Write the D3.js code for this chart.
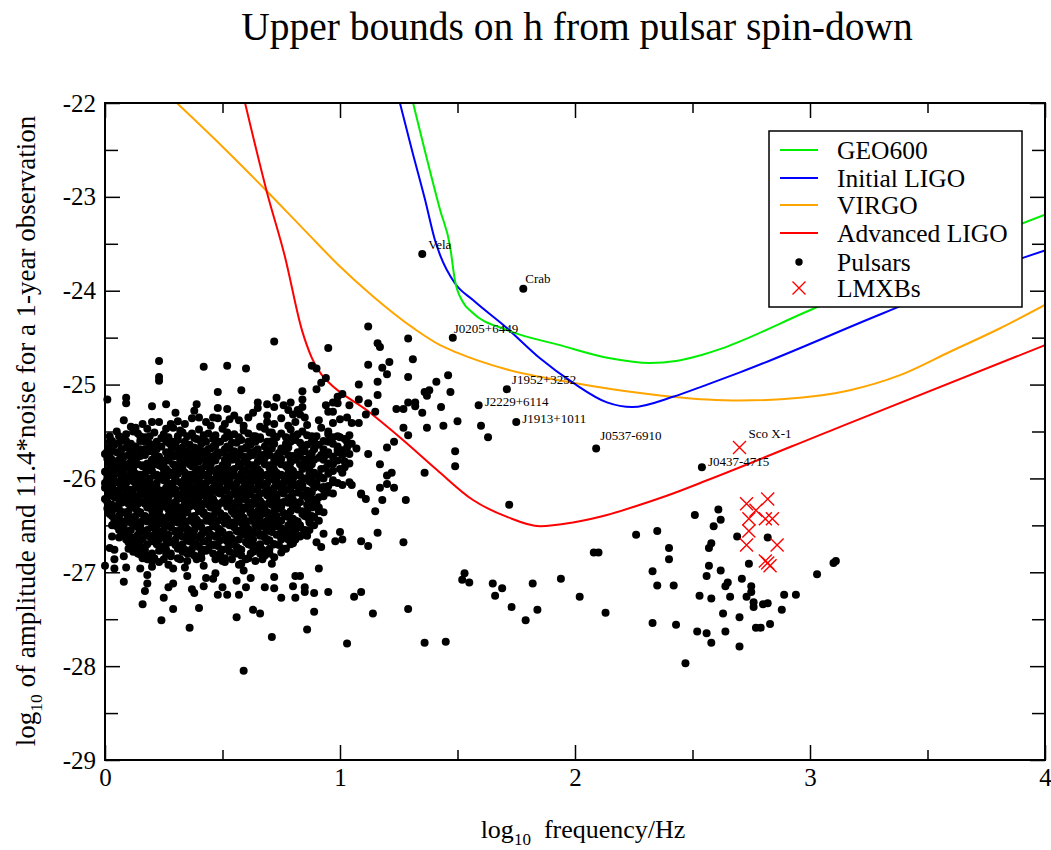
<!DOCTYPE html>
<html><head><meta charset="utf-8">
<script src="https://cdn.jsdelivr.net/npm/d3@7"></script>
<style>body{margin:0;background:#fff}svg{display:block}text{font-family:"Liberation Serif","Times New Roman",serif;fill:#000}</style>
</head><body><svg id="c" width="1051" height="850"></svg>
<script>
// ---------------- DATA ----------------
const xMajorTicks = [0, 1, 2, 3, 4];
const xMinorTicks = [0.5, 1.5, 2.5, 3.5];
const yMajorTicks = [-29, -28, -27, -26, -25, -24, -23, -22];
const yMinorTicks = [-28.5, -27.5, -26.5, -25.5, -24.5, -23.5, -22.5];

const geo600 = [[1.311,-22.00],[1.426,-23.14],[1.468,-23.52],[1.489,-23.89],[1.523,-24.12],[1.562,-24.23],[1.711,-24.42],[1.936,-24.58],[2.149,-24.72],[2.319,-24.77],[2.43,-24.75],[2.532,-24.69],[2.62,-24.62],[2.702,-24.54],[2.970,-24.24],[3.383,-23.80],[4.0,-23.19]];
const initialLIGO = [[1.255,-22.00],[1.306,-22.50],[1.362,-23.03],[1.404,-23.46],[1.426,-23.62],[1.489,-23.92],[1.566,-24.10],[1.711,-24.40],[1.851,-24.72],[1.991,-24.98],[2.136,-25.19],[2.243,-25.24],[2.417,-25.13],[2.562,-25.00],[2.702,-24.87],[3.311,-24.24],[3.906,-23.65],[4.0,-23.57]];
const virgo = [[0.306,-22.00],[0.498,-22.46],[0.689,-22.94],[0.851,-23.36],[0.991,-23.72],[1.136,-24.05],[1.319,-24.41],[1.426,-24.58],[1.498,-24.66],[1.711,-24.84],[1.991,-24.98],[2.277,-25.09],[2.562,-25.16],[2.702,-25.17],[2.957,-25.14],[3.170,-25.06],[3.383,-24.90],[3.596,-24.65],[3.809,-24.40],[4.0,-24.15]];
const advancedLIGO = [[0.596,-22.00],[0.689,-22.95],[0.766,-23.64],[0.838,-24.42],[0.881,-24.72],[0.923,-24.90],[0.949,-24.97],[1.128,-25.30],[1.268,-25.59],[1.413,-25.91],[1.566,-26.23],[1.711,-26.41],[1.851,-26.51],[1.991,-26.47],[2.136,-26.39],[2.277,-26.28],[2.417,-26.16],[2.562,-26.02],[3.128,-25.45],[4.0,-24.58]];

const namedPulsars = [
  {name:"Vela", x:1.35, y:-23.61},
  {name:"Crab", x:1.78, y:-23.98},
  {name:"J0205+6449", x:1.48, y:-24.50},
  {name:"J1952+3252", x:1.71, y:-25.05},
  {name:"J2229+6114", x:1.59, y:-25.22},
  {name:"J1913+1011", x:1.75, y:-25.40},
  {name:"J0537-6910", x:2.09, y:-25.68},
  {name:"J0437-4715", x:2.54, y:-25.88}
];

const pulsarsSparse = [
[0.72,-24.54],[0.23,-24.75],[0.23,-24.92],[0.23,-24.96],[0.42,-24.81],[0.52,-24.80],[0.60,-24.83],[0.48,-25.08],[0.58,-25.06],[0.01,-25.16],[0.09,-25.14],[0.09,-25.20],[0.20,-25.23],[0.26,-25.21],[0.39,-25.21],[0.38,-25.28],[0.48,-25.25],[0.52,-25.26],[0.65,-25.19],[0.65,-25.25],[0.69,-25.21],[0.73,-25.14],[0.63,-25.30],[0.08,-25.38],[0.11,-25.45],[0.16,-25.42],[0.20,-25.40],[0.23,-25.40],[0.26,-25.47],[0.31,-25.39],[0.32,-25.49],[0.37,-25.36],[0.40,-25.35],[0.46,-25.35],[0.48,-25.36],[0.55,-25.33],[0.45,-25.44],[0.47,-25.54],[0.37,-25.52],[0.42,-25.54],[0.59,-25.44],[0.66,-25.45],[0.72,-25.42],[0.71,-25.51],[0.03,-25.60],[0.06,-25.62],[0.01,-25.71],[0.11,-25.70],[0.14,-25.52],[0.17,-25.56],[0.22,-25.61],[0.28,-25.64],[0.16,-25.73],[0.20,-25.68],[0.08,-25.84],[0.12,-25.88],[0.05,-25.91],[0.01,-26.02],[0.04,-25.96],[0.03,-26.09],[0.06,-26.12],[0.15,-25.96],[0.19,-25.88],[0.23,-25.80],[0.28,-25.77],[0.32,-25.73],[0.33,-25.84],[0.29,-25.94],
[0.30,-25.30],[0.34,-25.42],[0.43,-25.40],[0.51,-25.42],[0.57,-25.38],[0.61,-25.35],[0.69,-25.33],[0.75,-25.36],[0.78,-25.44],[0.69,-25.40],[0.53,-25.37],[0.28,-25.42],[0.13,-25.46],[0.05,-25.50],[0.02,-25.55],
[1.12,-24.38],[0.95,-24.61],[1.16,-24.56],[1.17,-24.60],[1.29,-24.51],[1.31,-24.73],[1.21,-24.76],[1.12,-24.79],[1.18,-24.82],[1.20,-24.89],[1.29,-24.92],[1.46,-24.90],[1.41,-24.97],[1.16,-24.97],[0.88,-24.80],[0.90,-24.83],[0.94,-24.93],[0.92,-24.98],[0.90,-25.05],[0.84,-25.07],[1.08,-25.00],[1.16,-25.11],[1.36,-25.08],[1.38,-25.06],[1.37,-25.12],[1.47,-25.08],[1.29,-25.19],[1.32,-25.19],[1.32,-25.23],[1.24,-25.26],[1.27,-25.26],[1.43,-25.24],[1.35,-25.30],[1.44,-25.44],[1.50,-25.39],[1.37,-25.46],[1.27,-25.46],[1.29,-25.54],[1.15,-25.29],[1.11,-25.32],[1.08,-25.16],[1.12,-25.20],[1.01,-25.10],[0.99,-25.13],[0.99,-25.20],[1.04,-25.22],[0.97,-25.19],[0.94,-25.22],[0.95,-25.29],[0.91,-25.38],[0.97,-25.29],[1.00,-25.37],[1.03,-25.35],[1.05,-25.41],[1.08,-25.41],[0.97,-25.41],[0.95,-25.53],[0.97,-25.56],[1.00,-25.56],[1.04,-25.54],[1.03,-25.67],[1.07,-25.68],[1.12,-25.74],[1.20,-25.67],[1.23,-25.61],[1.17,-25.85],[1.20,-25.97],[1.22,-25.94],[1.20,-26.06],[1.23,-26.10],[1.36,-25.94],[1.49,-25.71],[1.49,-25.87],[1.04,-25.84],[0.99,-25.72],[1.02,-25.88],[1.01,-25.94],[1.04,-26.04],[1.05,-26.07],[1.09,-26.16],[1.01,-26.07],[0.97,-26.04],[0.97,-26.16],[0.93,-26.09],[0.89,-26.10],[0.84,-26.07],[0.91,-25.98],[0.96,-25.84],[0.94,-25.73],[0.89,-25.68],[0.83,-25.32],[0.84,-25.16],[0.84,-25.24],[0.82,-25.27],[0.79,-25.19],[0.76,-25.22],[0.72,-25.24],[0.78,-25.27],[0.80,-25.32],[0.81,-25.40],[0.85,-25.35],[0.86,-25.43],[0.86,-25.54],[0.83,-25.62],[0.89,-25.61],[0.88,-25.73],
[1.60,-25.44],[1.63,-25.56],
[1.27,-26.68],[1.28,-26.23],[1.17,-26.10],[1.15,-26.35],[1.16,-26.58],[1.09,-26.67],[1.12,-26.72],[1.18,-26.23],[1.11,-26.22],[1.09,-26.17],[1.00,-26.57],[0.98,-26.67],[1.01,-26.65],[0.93,-26.59],[0.90,-26.68],[0.92,-26.73],[0.91,-26.96],[0.95,-27.21],[0.89,-27.22],[0.85,-27.21],[0.85,-27.16],[0.80,-27.15],[0.81,-27.27],[0.75,-27.27],[0.72,-27.17],[0.72,-27.05],[0.81,-27.04],[0.83,-27.04],[1.09,-27.21],[1.06,-27.26],[0.89,-27.42],[0.86,-27.61],[1.14,-27.44],[1.29,-27.39],[0.71,-27.69],[1.03,-27.76],[1.36,-27.75],[1.45,-27.74],[1.53,-27.01],[1.52,-27.08],[1.55,-27.11],
[1.72,-26.28],[2.26,-26.60],[2.35,-26.56],[2.40,-26.74],[2.40,-26.86],[2.33,-26.99],[2.08,-26.79],[2.10,-26.79],[2.51,-26.39],[2.61,-26.33],[2.62,-26.44],[2.59,-26.51],[2.69,-26.62],[2.82,-26.63],[2.58,-26.69],[2.57,-26.74],[2.74,-26.91],[2.57,-26.93],[2.62,-26.98],[2.56,-27.04],[2.71,-27.07],[2.65,-27.11],[2.64,-27.15],[2.75,-27.15],[2.75,-27.21],[2.73,-27.26],[2.66,-27.26],[2.58,-27.28],[2.53,-27.25],[2.76,-27.32],[2.76,-27.37],[2.80,-27.34],[2.82,-27.33],[2.89,-27.24],[2.94,-27.24],[2.88,-27.40],[2.63,-27.44],[2.70,-27.48],[2.83,-27.55],[2.77,-27.59],[2.79,-27.59],[2.52,-27.63],[2.56,-27.65],[2.64,-27.63],[2.58,-27.75],[2.70,-27.79],[2.47,-27.97],[2.33,-27.54],[2.43,-27.56],[2.35,-27.14],[2.42,-27.14],[3.03,-27.02],[3.10,-26.90],[3.11,-26.88],[1.65,-27.12],[1.69,-27.17],[1.66,-27.25],[1.73,-27.37],[1.82,-27.12],[1.84,-27.40],[1.79,-27.51],[1.94,-27.07],[2.02,-27.26],[2.13,-27.43],
[0.59,-28.05],[0.24,-27.51],[0.36,-27.59],[0.56,-27.48],[0.63,-27.40],[0.66,-27.44],[0.16,-27.34],[0.29,-27.39],[0.25,-27.27],[0.08,-27.10],[0.00,-26.93],[0.04,-26.96],[0.09,-26.95],[0.15,-26.96],[0.20,-26.94],[0.18,-27.03],[0.18,-27.12],[0.17,-27.20],[0.27,-27.16],[0.29,-27.12],[0.35,-27.04],[0.37,-27.18],[0.38,-27.22],[0.40,-27.38],[0.43,-27.06],[0.46,-27.07],[0.48,-27.24],[0.50,-27.16],[0.52,-27.24],[0.56,-27.09],[0.57,-27.24],[0.60,-27.16],[0.62,-27.06],[0.68,-27.16],[0.59,-26.98],[0.58,-26.91],[0.51,-26.89],[0.47,-27.01],[0.42,-27.15],[0.34,-26.95],[0.29,-26.96],[0.23,-26.89],[0.16,-26.85],[0.13,-26.74],[0.04,-26.86],[0.02,-26.74],[0.04,-26.76],[0.06,-26.63],[0.03,-26.62],[0.08,-26.83]
];

const pulsarsCluster = [
[0.12,-25.50],[0.18,-25.47],[0.25,-25.53],[0.29,-25.46],[0.35,-25.55],[0.40,-25.48],[0.44,-25.52],[0.50,-25.47],[0.55,-25.53],[0.59,-25.49],[0.63,-25.55],[0.68,-25.47],[0.75,-25.52],[0.79,-25.48],[0.84,-25.50],[0.92,-25.46],
[0.07,-25.58],[0.11,-25.63],[0.15,-25.60],[0.24,-25.57],[0.27,-25.62],[0.31,-25.59],[0.36,-25.64],[0.39,-25.58],[0.43,-25.61],[0.47,-25.65],[0.51,-25.57],[0.54,-25.62],[0.58,-25.59],[0.62,-25.64],[0.66,-25.58],[0.70,-25.61],[0.73,-25.56],[0.77,-25.63],[0.81,-25.59],[0.86,-25.64],[0.93,-25.60],[0.97,-25.63],
[0.02,-25.66],[0.05,-25.72],[0.09,-25.67],[0.13,-25.74],[0.17,-25.69],[0.21,-25.73],[0.24,-25.66],[0.28,-25.71],[0.33,-25.67],[0.36,-25.74],[0.40,-25.69],[0.43,-25.73],[0.46,-25.66],[0.50,-25.72],[0.53,-25.68],[0.57,-25.74],[0.60,-25.67],[0.64,-25.71],[0.67,-25.75],[0.71,-25.68],[0.74,-25.73],[0.78,-25.67],[0.82,-25.72],[0.89,-25.69],[0.95,-25.72],[1.01,-25.70],
[0.01,-25.79],[0.04,-25.84],[0.08,-25.77],[0.11,-25.82],[0.14,-25.77],[0.18,-25.84],[0.22,-25.78],[0.25,-25.83],[0.29,-25.76],[0.32,-25.81],[0.35,-25.77],[0.38,-25.84],[0.41,-25.79],[0.45,-25.82],[0.48,-25.76],[0.52,-25.83],[0.55,-25.78],[0.58,-25.84],[0.61,-25.77],[0.65,-25.82],[0.68,-25.78],[0.72,-25.84],[0.75,-25.79],[0.79,-25.83],[0.83,-25.77],[0.87,-25.82],[0.91,-25.78],[0.99,-25.81],
[0.00,-25.93],[0.03,-25.88],[0.06,-25.94],[0.10,-25.89],[0.13,-25.95],[0.16,-25.87],[0.20,-25.92],[0.23,-25.86],[0.27,-25.93],[0.30,-25.88],[0.34,-25.94],[0.37,-25.87],[0.40,-25.92],[0.43,-25.86],[0.47,-25.93],[0.50,-25.88],[0.53,-25.94],[0.57,-25.87],[0.60,-25.92],[0.63,-25.86],[0.66,-25.93],[0.70,-25.89],[0.73,-25.94],[0.77,-25.87],[0.80,-25.92],[0.85,-25.88],[0.89,-25.94],[0.94,-25.89],
[0.02,-25.98],[0.05,-26.04],[0.08,-25.97],[0.12,-26.03],[0.15,-25.98],[0.18,-26.05],[0.21,-25.97],[0.25,-26.02],[0.28,-25.96],[0.32,-26.04],[0.35,-25.99],[0.39,-26.03],[0.42,-25.96],[0.45,-26.02],[0.49,-25.98],[0.52,-26.05],[0.55,-25.97],[0.59,-26.03],[0.62,-25.98],[0.65,-26.04],[0.69,-25.96],[0.72,-26.02],[0.76,-25.98],[0.79,-26.05],[0.83,-25.97],[0.87,-26.03],[0.92,-25.99],[0.97,-26.02],
[0.01,-26.08],[0.04,-26.13],[0.07,-26.07],[0.11,-26.12],[0.14,-26.06],[0.17,-26.14],[0.20,-26.09],[0.24,-26.13],[0.27,-26.07],[0.30,-26.12],[0.34,-26.06],[0.37,-26.14],[0.40,-26.08],[0.44,-26.12],[0.47,-26.07],[0.51,-26.13],[0.54,-26.08],[0.57,-26.14],[0.61,-26.07],[0.64,-26.12],[0.67,-26.06],[0.71,-26.13],[0.74,-26.08],[0.78,-26.12],[0.81,-26.07],[0.86,-26.13],[0.90,-26.08],
[0.02,-26.18],[0.06,-26.23],[0.09,-26.17],[0.12,-26.22],[0.16,-26.17],[0.19,-26.24],[0.22,-26.18],[0.26,-26.23],[0.29,-26.16],[0.32,-26.21],[0.36,-26.17],[0.39,-26.24],[0.42,-26.18],[0.46,-26.22],[0.49,-26.16],[0.52,-26.23],[0.56,-26.18],[0.59,-26.22],[0.62,-26.17],[0.66,-26.24],[0.69,-26.18],[0.72,-26.22],[0.76,-26.16],[0.80,-26.23],[0.84,-26.18],[0.88,-26.22],[0.93,-26.19],
[0.03,-26.28],[0.06,-26.33],[0.10,-26.27],[0.13,-26.32],[0.17,-26.27],[0.20,-26.34],[0.23,-26.28],[0.27,-26.33],[0.30,-26.26],[0.34,-26.31],[0.37,-26.27],[0.40,-26.34],[0.44,-26.28],[0.47,-26.32],[0.50,-26.26],[0.54,-26.33],[0.57,-26.28],[0.60,-26.32],[0.64,-26.27],[0.67,-26.34],[0.71,-26.28],[0.74,-26.32],[0.78,-26.26],[0.82,-26.33],[0.86,-26.28],[0.91,-26.31],
[0.02,-26.38],[0.05,-26.43],[0.09,-26.37],[0.12,-26.42],[0.15,-26.36],[0.19,-26.44],[0.22,-26.38],[0.25,-26.43],[0.29,-26.37],[0.32,-26.42],[0.35,-26.36],[0.39,-26.44],[0.42,-26.38],[0.45,-26.42],[0.49,-26.37],[0.52,-26.43],[0.55,-26.38],[0.59,-26.42],[0.62,-26.36],[0.65,-26.44],[0.69,-26.38],[0.72,-26.42],[0.76,-26.37],[0.80,-26.43],[0.84,-26.38],[0.89,-26.41],
[0.04,-26.48],[0.07,-26.53],[0.11,-26.47],[0.14,-26.52],[0.18,-26.46],[0.21,-26.53],[0.24,-26.48],[0.28,-26.52],[0.31,-26.47],[0.35,-26.54],[0.38,-26.48],[0.41,-26.52],[0.45,-26.46],[0.48,-26.53],[0.51,-26.48],[0.55,-26.52],[0.58,-26.47],[0.61,-26.54],[0.65,-26.48],[0.68,-26.52],[0.72,-26.46],[0.75,-26.53],[0.79,-26.48],[0.83,-26.52],[0.87,-26.47],
[0.08,-26.58],[0.12,-26.63],[0.16,-26.57],[0.19,-26.62],[0.23,-26.58],[0.26,-26.64],[0.30,-26.57],[0.33,-26.62],[0.37,-26.58],[0.40,-26.63],[0.43,-26.57],[0.47,-26.62],[0.50,-26.58],[0.54,-26.64],[0.57,-26.57],[0.61,-26.62],[0.64,-26.58],[0.68,-26.63],[0.71,-26.57],[0.76,-26.62],[0.81,-26.58],[0.86,-26.61],
[0.10,-26.68],[0.15,-26.72],[0.20,-26.67],[0.24,-26.73],[0.28,-26.68],[0.32,-26.72],[0.36,-26.67],[0.40,-26.73],[0.44,-26.68],[0.48,-26.72],[0.52,-26.67],[0.56,-26.73],[0.60,-26.68],[0.64,-26.72],[0.69,-26.67],[0.74,-26.71],[0.80,-26.69],
[0.12,-26.78],[0.18,-26.82],[0.23,-26.77],[0.28,-26.83],[0.33,-26.78],[0.38,-26.82],[0.43,-26.77],[0.48,-26.83],[0.53,-26.78],[0.58,-26.82],[0.63,-26.78],[0.68,-26.82],[0.75,-26.79],
[0.20,-26.88],[0.27,-26.92],[0.35,-26.88],[0.42,-26.93],[0.50,-26.88],[0.57,-26.92],[0.64,-26.88],[0.71,-26.91]
];

const pulsarsClusterInner = [
[0.09,-25.53],[0.15,-25.55],[0.21,-25.51],[0.27,-25.56],[0.33,-25.51],[0.38,-25.57],[0.46,-25.58],[0.52,-25.51],[0.57,-25.56],[0.61,-25.52],[0.66,-25.56],[0.70,-25.51],[0.77,-25.56],[0.82,-25.53],[0.88,-25.55],[0.95,-25.50],[1.02,-25.58],
[0.04,-25.64],[0.09,-25.60],[0.13,-25.66],[0.19,-25.63],[0.22,-25.66],[0.26,-25.60],[0.30,-25.65],[0.34,-25.61],[0.38,-25.67],[0.41,-25.63],[0.45,-25.68],[0.49,-25.61],[0.52,-25.66],[0.56,-25.62],[0.60,-25.68],[0.64,-25.61],[0.68,-25.66],[0.72,-25.63],[0.75,-25.68],[0.79,-25.61],[0.84,-25.66],[0.91,-25.64],[0.99,-25.66],[1.05,-25.63],
[0.00,-25.74],[0.03,-25.70],[0.07,-25.75],[0.11,-25.71],[0.15,-25.76],[0.19,-25.71],[0.23,-25.77],[0.26,-25.72],[0.30,-25.76],[0.35,-25.71],[0.38,-25.77],[0.42,-25.71],[0.45,-25.77],[0.48,-25.72],[0.52,-25.76],[0.55,-25.71],[0.59,-25.77],[0.62,-25.72],[0.66,-25.77],[0.69,-25.71],[0.73,-25.76],[0.76,-25.71],[0.80,-25.76],[0.85,-25.71],[0.92,-25.75],[0.97,-25.77],[1.04,-25.74],
[0.02,-25.85],[0.06,-25.80],[0.09,-25.86],[0.13,-25.81],[0.16,-25.86],[0.20,-25.81],[0.24,-25.87],[0.27,-25.81],[0.31,-25.86],[0.34,-25.80],[0.37,-25.86],[0.40,-25.82],[0.43,-25.87],[0.47,-25.81],[0.50,-25.86],[0.54,-25.80],[0.57,-25.86],[0.60,-25.81],[0.63,-25.87],[0.67,-25.81],[0.70,-25.86],[0.74,-25.81],[0.77,-25.86],[0.81,-25.80],[0.85,-25.85],[0.89,-25.80],[0.95,-25.84],[1.02,-25.82],
[0.01,-25.96],[0.05,-25.90],[0.08,-25.96],[0.12,-25.91],[0.15,-25.97],[0.18,-25.91],[0.22,-25.96],[0.25,-25.90],[0.29,-25.97],[0.32,-25.91],[0.36,-25.96],[0.39,-25.90],[0.42,-25.97],[0.45,-25.91],[0.49,-25.96],[0.52,-25.90],[0.55,-25.97],[0.59,-25.91],[0.62,-25.96],[0.65,-25.90],[0.68,-25.97],[0.72,-25.91],[0.75,-25.96],[0.79,-25.90],[0.82,-25.96],[0.87,-25.91],[0.91,-25.97],[0.97,-25.92],
[0.00,-26.05],[0.03,-26.01],[0.07,-26.06],[0.10,-26.00],[0.14,-26.06],[0.17,-26.01],[0.20,-26.07],[0.23,-26.00],[0.27,-26.06],[0.30,-26.01],[0.33,-26.07],[0.37,-26.01],[0.41,-26.06],[0.44,-26.00],[0.47,-26.06],[0.51,-26.01],[0.54,-26.07],[0.57,-26.00],[0.60,-26.06],[0.64,-26.01],[0.67,-26.07],[0.70,-26.00],[0.74,-26.06],[0.78,-26.01],[0.81,-26.07],[0.85,-26.00],[0.90,-26.05],[0.95,-26.08],
[0.03,-26.10],[0.06,-26.16],[0.09,-26.11],[0.12,-26.17],[0.16,-26.11],[0.19,-26.16],[0.22,-26.10],[0.25,-26.16],[0.29,-26.11],[0.32,-26.17],[0.35,-26.11],[0.39,-26.16],[0.42,-26.10],[0.45,-26.16],[0.49,-26.11],[0.53,-26.17],[0.56,-26.11],[0.59,-26.16],[0.62,-26.10],[0.66,-26.16],[0.69,-26.11],[0.73,-26.17],[0.76,-26.11],[0.80,-26.16],[0.84,-26.10],[0.88,-26.15],[0.93,-26.12],
[0.00,-26.22],[0.04,-26.20],[0.07,-26.26],[0.11,-26.21],[0.14,-26.27],[0.18,-26.20],[0.21,-26.26],[0.24,-26.21],[0.28,-26.27],[0.31,-26.20],[0.34,-26.26],[0.38,-26.21],[0.41,-26.27],[0.44,-26.20],[0.47,-26.26],[0.51,-26.21],[0.54,-26.27],[0.58,-26.20],[0.61,-26.26],[0.64,-26.21],[0.67,-26.27],[0.71,-26.20],[0.74,-26.26],[0.78,-26.21],[0.82,-26.27],[0.86,-26.20],[0.90,-26.26],
[0.01,-26.32],[0.05,-26.30],[0.08,-26.36],[0.12,-26.30],[0.15,-26.37],[0.18,-26.31],[0.21,-26.36],[0.25,-26.30],[0.28,-26.37],[0.32,-26.31],[0.35,-26.36],[0.39,-26.30],[0.42,-26.36],[0.45,-26.31],[0.49,-26.37],[0.52,-26.30],[0.56,-26.36],[0.59,-26.31],[0.62,-26.37],[0.66,-26.30],[0.69,-26.36],[0.73,-26.31],[0.76,-26.37],[0.80,-26.30],[0.84,-26.35],[0.88,-26.31],[0.93,-26.36],
[0.03,-26.40],[0.07,-26.46],[0.10,-26.41],[0.14,-26.47],[0.17,-26.40],[0.20,-26.46],[0.24,-26.41],[0.27,-26.47],[0.30,-26.40],[0.34,-26.46],[0.37,-26.41],[0.40,-26.47],[0.44,-26.40],[0.47,-26.46],[0.50,-26.41],[0.54,-26.47],[0.57,-26.40],[0.60,-26.46],[0.64,-26.41],[0.67,-26.47],[0.71,-26.40],[0.74,-26.46],[0.78,-26.41],[0.82,-26.46],[0.86,-26.41],[0.91,-26.45],
[0.05,-26.51],[0.09,-26.56],[0.13,-26.50],[0.16,-26.56],[0.20,-26.51],[0.23,-26.57],[0.26,-26.50],[0.30,-26.56],[0.33,-26.51],[0.36,-26.57],[0.40,-26.50],[0.43,-26.56],[0.46,-26.51],[0.50,-26.57],[0.53,-26.50],[0.56,-26.56],[0.60,-26.51],[0.63,-26.57],[0.66,-26.50],[0.70,-26.56],[0.73,-26.51],[0.77,-26.57],[0.81,-26.50],[0.85,-26.55],
[0.10,-26.61],[0.14,-26.66],[0.18,-26.60],[0.21,-26.66],[0.25,-26.61],[0.28,-26.67],[0.31,-26.60],[0.35,-26.66],[0.38,-26.61],[0.42,-26.67],[0.45,-26.60],[0.49,-26.66],[0.52,-26.61],[0.55,-26.67],[0.59,-26.60],[0.62,-26.66],[0.66,-26.61],[0.70,-26.66],[0.73,-26.60],[0.78,-26.65],[0.83,-26.62],
[0.12,-26.71],[0.17,-26.76],[0.22,-26.70],[0.26,-26.76],[0.30,-26.71],[0.34,-26.76],[0.38,-26.70],[0.42,-26.76],[0.46,-26.71],[0.50,-26.76],[0.54,-26.70],[0.58,-26.76],[0.62,-26.71],[0.67,-26.76],[0.72,-26.70],[0.77,-26.75],
[0.15,-26.81],[0.21,-26.85],[0.26,-26.80],[0.31,-26.85],[0.36,-26.80],[0.41,-26.85],[0.46,-26.80],[0.51,-26.85],[0.56,-26.80],[0.61,-26.85],[0.66,-26.80],[0.72,-26.84]
];

// extra cluster pulsars, listed by row: [log10 h, [log10 f values]]
const pulsarsClusterRows = [
[-25.55,[0.06,0.19,0.31,0.42,0.53,0.64,0.72,0.80,0.90,0.99]],
[-25.61,[0.02,0.17,0.29,0.41,0.48,0.61,0.69,0.88,0.95,1.03]],
[-25.69,[0.07,0.15,0.22,0.31,0.38,0.44,0.51,0.58,0.65,0.76,0.84,0.93,0.99]],
[-25.75,[0.02,0.10,0.17,0.27,0.33,0.40,0.47,0.54,0.63,0.70,0.78,0.87,0.94,1.01]],
[-25.80,[0.03,0.12,0.20,0.26,0.36,0.43,0.51,0.56,0.66,0.72,0.79,0.85,0.93]],
[-25.85,[0.07,0.14,0.21,0.29,0.36,0.45,0.52,0.61,0.68,0.75,0.83,0.88,0.97]],
[-25.90,[0.02,0.08,0.18,0.26,0.33,0.41,0.48,0.55,0.63,0.71,0.78,0.84,0.92,1.00]],
[-25.95,[0.04,0.11,0.17,0.25,0.31,0.38,0.44,0.51,0.58,0.64,0.71,0.78,0.87,0.95]],
[-26.00,[0.01,0.07,0.13,0.19,0.26,0.34,0.40,0.47,0.53,0.60,0.66,0.73,0.80,0.88,0.93]],
[-26.05,[0.03,0.09,0.16,0.22,0.29,0.36,0.43,0.49,0.56,0.62,0.69,0.76,0.83,0.88,0.99]],
[-26.10,[0.00,0.08,0.13,0.19,0.26,0.33,0.38,0.46,0.52,0.59,0.65,0.72,0.79,0.83,0.92]],
[-26.15,[0.02,0.10,0.15,0.21,0.28,0.34,0.41,0.48,0.55,0.60,0.68,0.75,0.82,0.87,0.95]],
[-26.20,[0.05,0.08,0.14,0.20,0.27,0.34,0.40,0.45,0.53,0.60,0.65,0.73,0.79,0.86,0.91]],
[-26.25,[0.01,0.09,0.16,0.23,0.30,0.36,0.43,0.50,0.56,0.63,0.70,0.76,0.83,0.88]],
[-26.30,[0.04,0.11,0.19,0.22,0.29,0.36,0.41,0.48,0.55,0.62,0.68,0.75,0.80,0.89]],
[-26.35,[0.03,0.10,0.14,0.23,0.30,0.33,0.40,0.47,0.54,0.58,0.65,0.72,0.79,0.86,0.91]],
[-26.40,[0.06,0.13,0.20,0.27,0.33,0.38,0.46,0.51,0.58,0.66,0.73,0.77,0.85,0.88]],
[-26.45,[0.04,0.09,0.16,0.22,0.29,0.36,0.43,0.48,0.56,0.62,0.69,0.75,0.81,0.87]],
[-26.50,[0.03,0.08,0.15,0.22,0.28,0.34,0.39,0.47,0.55,0.59,0.64,0.71,0.78,0.83,0.89]],
[-26.55,[0.06,0.11,0.18,0.25,0.32,0.38,0.44,0.49,0.58,0.65,0.69,0.75,0.80,0.87]],
[-26.60,[0.07,0.14,0.21,0.27,0.35,0.41,0.48,0.53,0.60,0.67,0.74,0.79,0.84]],
[-26.65,[0.09,0.16,0.23,0.30,0.37,0.44,0.51,0.57,0.63,0.69,0.75,0.81]],
[-26.70,[0.13,0.18,0.26,0.33,0.39,0.47,0.53,0.61,0.66,0.72,0.79]],
[-26.75,[0.10,0.16,0.24,0.31,0.37,0.44,0.52,0.57,0.64,0.70,0.76]],
[-26.80,[0.14,0.20,0.28,0.35,0.41,0.49,0.55,0.62,0.70]],
[-26.86,[0.18,0.25,0.32,0.39,0.47,0.54,0.60,0.67]]
];

const namedLmxbs = [{name:"Sco X-1", x:2.70, y:-25.67}];
const lmxbs = [[2.73,-26.27],[2.82,-26.22],[2.77,-26.34],[2.74,-26.43],[2.81,-26.43],[2.84,-26.43],[2.74,-26.56],[2.73,-26.71],[2.86,-26.71],[2.82,-26.90],[2.83,-26.93],[2.81,-26.88]];

const legendItems = [
  {label:"GEO600", kind:"line", color:"#00ee00"},
  {label:"Initial LIGO", kind:"line", color:"#0000ff"},
  {label:"VIRGO", kind:"line", color:"#ffa500"},
  {label:"Advanced LIGO", kind:"line", color:"#ff0000"},
  {label:"Pulsars", kind:"dot", color:"#000"},
  {label:"LMXBs", kind:"cross", color:"#ff0000"}
];

// ---------------- DRAWING ----------------
const svg = d3.select("#c");
const L=105, R=1045, T=103, B=760;
const x = d3.scaleLinear().domain([0,4]).range([L,R]);
const y = d3.scaleLinear().domain([-29,-22]).range([B,T]);

svg.append("text").attr("x",577).attr("y",40).attr("text-anchor","middle").attr("font-size",39.5)
  .text("Upper bounds on h from pulsar spin-down");

svg.append("clipPath").attr("id","clip").append("rect").attr("x",L).attr("y",T).attr("width",R-L).attr("height",B-T);

function tidy(g, labels){
  g.select(".domain").remove();
  g.selectAll(".tick line").attr("stroke","#000").attr("stroke-width",1.5);
  g.selectAll(".tick text").attr("font-size",25).attr("fill","#000").attr("font-family","'Liberation Serif',serif");
  if(!labels) g.selectAll(".tick text").remove();
}
const fmt = d => String(d);
svg.append("g").attr("transform",`translate(0,${B})`).call(d3.axisBottom(x).tickValues(xMajorTicks).tickSize(-15).tickPadding(8).tickFormat(fmt)).call(g=>tidy(g,true));
svg.append("g").attr("transform",`translate(0,${B})`).call(d3.axisBottom(x).tickValues(xMinorTicks).tickSize(-10).tickFormat("")).call(g=>tidy(g,false));
svg.append("g").attr("transform",`translate(0,${T})`).call(d3.axisTop(x).tickValues(xMajorTicks).tickSize(-15).tickFormat("")).call(g=>tidy(g,false));
svg.append("g").attr("transform",`translate(0,${T})`).call(d3.axisTop(x).tickValues(xMinorTicks).tickSize(-10).tickFormat("")).call(g=>tidy(g,false));
svg.append("g").attr("transform",`translate(${L},0)`).call(d3.axisLeft(y).tickValues(yMajorTicks).tickSize(-15).tickPadding(9).tickFormat(fmt)).call(g=>tidy(g,true));
svg.append("g").attr("transform",`translate(${L},0)`).call(d3.axisLeft(y).tickValues(yMinorTicks).tickSize(-13).tickFormat("")).call(g=>tidy(g,false));
svg.append("g").attr("transform",`translate(${R},0)`).call(d3.axisRight(y).tickValues(yMajorTicks).tickSize(-15).tickFormat("")).call(g=>tidy(g,false));
svg.append("g").attr("transform",`translate(${R},0)`).call(d3.axisRight(y).tickValues(yMinorTicks).tickSize(-13).tickFormat("")).call(g=>tidy(g,false));

const plot = svg.append("g").attr("clip-path","url(#clip)");
const line = d3.line().x(d=>x(d[0])).y(d=>y(d[1])).curve(d3.curveMonotoneX);
[[virgo,"#ffa500"],[advancedLIGO,"#ff0000"],[initialLIGO,"#0000ff"],[geo600,"#00ee00"]].forEach(([d,c])=>{
  plot.append("path").datum(d).attr("d",line).attr("fill","none").attr("stroke",c).attr("stroke-width",2);
});

const dotR = 4.0;
const rowPoints = pulsarsClusterRows.flatMap(([yy, xs]) => xs.map(xx => [xx, yy]));
const allPulsars = pulsarsSparse.concat(pulsarsCluster, pulsarsClusterInner, rowPoints, namedPulsars.map(p=>[p.x,p.y]));
svg.append("g").selectAll("circle").data(allPulsars).join("circle")
  .attr("cx",d=>x(d[0])).attr("cy",d=>y(d[1])).attr("r",dotR).attr("fill","#000");

const crossPath = "M-6.5,-6.5L6.5,6.5M-6.5,6.5L6.5,-6.5";
const allLmxbs = namedLmxbs.map(p=>[p.x,p.y]).concat(lmxbs);
svg.append("g").selectAll("path").data(allLmxbs).join("path")
  .attr("d",crossPath).attr("transform",d=>`translate(${x(d[0])},${y(d[1])})`)
  .attr("stroke","#ff0000").attr("stroke-width",1.4).attr("fill","none");

const labelOffset = {"Vela":[6,-5],"Crab":[2,-6],"J0205+6449":[1,-5],"J1952+3252":[5,-5],"J2229+6114":[6,1],"J1913+1011":[6,1],"J0537-6910":[4,-8],"J0437-4715":[6,-1],"Sco X-1":[9,-9]};
svg.append("g").selectAll("text").data(namedPulsars.concat(namedLmxbs)).join("text")
  .attr("x",d=>x(d.x)+labelOffset[d.name][0]).attr("y",d=>y(d.y)+labelOffset[d.name][1])
  .attr("font-size",13).text(d=>d.name);

svg.append("rect").attr("x",L).attr("y",T).attr("width",R-L).attr("height",B-T)
  .attr("fill","none").attr("stroke","#000").attr("stroke-width",2);

// legend
const lg = svg.append("g");
lg.append("rect").attr("x",769).attr("y",131).attr("width",253).attr("height",176).attr("fill","#fff").attr("stroke","#000").attr("stroke-width",1.5);
const rowY = [150,178,205,233,262,288];
legendItems.forEach((it,i)=>{
  const yy=rowY[i];
  if(it.kind==="line") lg.append("line").attr("x1",780).attr("x2",818).attr("y1",yy).attr("y2",yy).attr("stroke",it.color).attr("stroke-width",2);
  else if(it.kind==="dot") lg.append("circle").attr("cx",799).attr("cy",yy).attr("r",3.7).attr("fill",it.color);
  else lg.append("path").attr("d",crossPath).attr("transform",`translate(799,${yy})`).attr("stroke",it.color).attr("stroke-width",1.4);
  lg.append("text").attr("x",837).attr("y",yy+9).attr("font-size",25.5).text(it.label);
});

// axis titles
const xl = svg.append("text").attr("x",583).attr("y",838).attr("text-anchor","middle").attr("font-size",26);
xl.append("tspan").text("log");
xl.append("tspan").attr("font-size",17).attr("dy",7).text("10");
xl.append("tspan").attr("dy",-7).text("\u00a0 frequency/Hz");

const yl = svg.append("text").attr("transform","translate(35,431) rotate(-90)").attr("text-anchor","middle").attr("font-size",27);
yl.append("tspan").text("log");
yl.append("tspan").attr("font-size",17.5).attr("dy",7).text("10");
yl.append("tspan").attr("dy",-7).text(" of amplitude and 11.4*noise for a 1-year observation");
</script></body></html>
